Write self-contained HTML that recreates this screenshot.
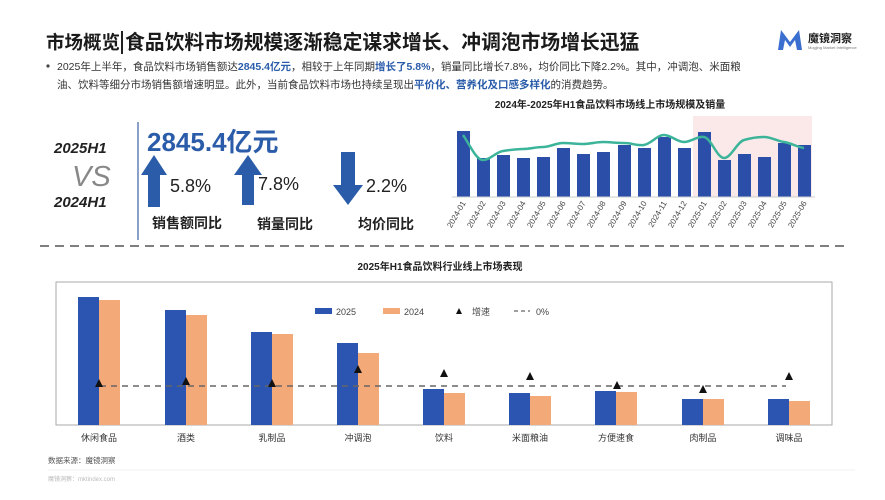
<!DOCTYPE html>
<html><head><meta charset="utf-8"><style>
body{margin:0;background:#fff;}
svg{display:block;font-family:"Liberation Sans","Noto Sans CJK SC",sans-serif;}
</style></head><body>
<svg width="885" height="500" viewBox="0 0 885 500" xmlns="http://www.w3.org/2000/svg">
<rect width="885" height="500" fill="#fff"/>
<!-- Title -->
<text x="46" y="49" font-size="18.5" font-weight="bold" fill="#1a1a1a">市场概览</text>
<rect x="121" y="31" width="2" height="23" fill="#222"/>
<text x="125" y="49" font-size="19.8" font-weight="bold" fill="#1a1a1a">食品饮料市场规模逐渐稳定谋求增长、冲调泡市场增长迅猛</text>
<!-- logo -->
<path d="M778 50 L781 30 L790 42 L799 30 L802 50 L797 50 L795 40 L790 47 L785 40 L783 50 Z" fill="#3a6fd0"/>
<text x="808" y="42" font-size="11" font-weight="bold" fill="#222">魔镜洞察</text>
<text x="808" y="49" font-size="4" fill="#777">Mogjing Market Intelligence</text>
<!-- paragraph -->
<circle cx="48" cy="66" r="1.6" fill="#444"/>
<text x="57" y="70" font-size="10.5" fill="#333">2025年上半年，食品饮料市场销售额达<tspan fill="#2a5caa" font-weight="bold">2845.4亿元</tspan>，相较于上年同期<tspan fill="#2a5caa" font-weight="bold">增长了5.8%</tspan>，销量同比增长7.8%，均价同比下降2.2%。其中，冲调泡、米面粮</text>
<text x="57" y="88" font-size="10.5" fill="#333">油、饮料等细分市场销售额增速明显。此外，当前食品饮料市场也持续呈现出<tspan fill="#2a5caa" font-weight="bold">平价化、营养化及口感多样化</tspan>的消费趋势。</text>
<!-- left KPI -->
<text x="54" y="153" font-size="15" font-weight="bold" font-style="italic" fill="#222">2025H1</text>
<text x="72" y="186" font-size="29" font-style="italic" fill="#888">VS</text>
<text x="54" y="207" font-size="15" font-weight="bold" font-style="italic" fill="#222">2024H1</text>
<rect x="137" y="122" width="2" height="118" fill="#8aa0c8"/>
<text x="147" y="151" font-size="26" font-weight="bold" fill="#2a5caa">2845.4亿元</text>
<path d="M148 207 V175 H141 L154 155 L167 175 H160 V207 Z" fill="#2a5caa"/>
<text x="170" y="192" font-size="18" fill="#222">5.8%</text>
<path d="M242 205 V175 H234 L248 155 L262 175 H254 V205 Z" fill="#2a5caa"/>
<text x="258" y="190" font-size="18" fill="#222">7.8%</text>
<path d="M341 152 V185 H333 L348 205 L363 185 H355 V152 Z" fill="#2a5caa"/>
<text x="366" y="192" font-size="18" fill="#222">2.2%</text>
<text x="152" y="228" font-size="14" font-weight="bold" fill="#222">销售额同比</text>
<text x="257" y="229" font-size="14" font-weight="bold" fill="#222">销量同比</text>
<text x="358" y="229" font-size="14" font-weight="bold" fill="#222">均价同比</text>
<!-- top right chart -->
<text x="610" y="108" font-size="10" font-weight="bold" fill="#222" text-anchor="middle">2024年-2025年H1食品饮料市场线上市场规模及销量</text>
<rect x="693" y="116" width="119" height="81" fill="#fbe9e9"/>
<g fill="#2b4fa8">
<rect x="457" y="131" width="13" height="66"/>
<rect x="477" y="158" width="13" height="39"/>
<rect x="497" y="155" width="13" height="42"/>
<rect x="517" y="158" width="13" height="39"/>
<rect x="537" y="157" width="13" height="40"/>
<rect x="557" y="148" width="13" height="49"/>
<rect x="577" y="154" width="13" height="43"/>
<rect x="597" y="152" width="13" height="45"/>
<rect x="618" y="145" width="13" height="52"/>
<rect x="638" y="148" width="13" height="49"/>
<rect x="658" y="137" width="13" height="60"/>
<rect x="678" y="148" width="13" height="49"/>
<rect x="698" y="132" width="13" height="65"/>
<rect x="718" y="160" width="13" height="37"/>
<rect x="738" y="154" width="13" height="43"/>
<rect x="758" y="157" width="13" height="40"/>
<rect x="778" y="143" width="13" height="54"/>
<rect x="798" y="145" width="13" height="52"/>
</g>
<line x1="452" y1="197" x2="815" y2="197" stroke="#ccc"/>
<path d="M463 135 C470 145,476 160,483 160 S496 152,503 151 S516 149,523 149 S536 147,543 147 S556 143,563 143 S576 144,583 144 S596 142,603 142 S616 143,624 143 S637 146,644 145 S657 135,664 135 S677 142,684 142 S697 136,704 137 S717 158,724 158 S737 142,744 140 S757 137,764 137 S777 141,784 142 S797 147,804 148" fill="none" stroke="#3cb49a" stroke-width="2.5"/>
<g font-size="8" fill="#444">
<text transform="translate(466,203) rotate(-60)" text-anchor="end">2024-01</text>
<text transform="translate(486,203) rotate(-60)" text-anchor="end">2024-02</text>
<text transform="translate(506,203) rotate(-60)" text-anchor="end">2024-03</text>
<text transform="translate(526,203) rotate(-60)" text-anchor="end">2024-04</text>
<text transform="translate(546,203) rotate(-60)" text-anchor="end">2024-05</text>
<text transform="translate(566,203) rotate(-60)" text-anchor="end">2024-06</text>
<text transform="translate(586,203) rotate(-60)" text-anchor="end">2024-07</text>
<text transform="translate(606,203) rotate(-60)" text-anchor="end">2024-08</text>
<text transform="translate(627,203) rotate(-60)" text-anchor="end">2024-09</text>
<text transform="translate(647,203) rotate(-60)" text-anchor="end">2024-10</text>
<text transform="translate(667,203) rotate(-60)" text-anchor="end">2024-11</text>
<text transform="translate(687,203) rotate(-60)" text-anchor="end">2024-12</text>
<text transform="translate(707,203) rotate(-60)" text-anchor="end">2025-01</text>
<text transform="translate(727,203) rotate(-60)" text-anchor="end">2025-02</text>
<text transform="translate(747,203) rotate(-60)" text-anchor="end">2025-03</text>
<text transform="translate(767,203) rotate(-60)" text-anchor="end">2025-04</text>
<text transform="translate(787,203) rotate(-60)" text-anchor="end">2025-05</text>
<text transform="translate(807,203) rotate(-60)" text-anchor="end">2025-06</text>
</g>
<!-- separator -->
<line x1="40" y1="246" x2="845" y2="246" stroke="#555" stroke-width="1.5" stroke-dasharray="9,6"/>
<!-- bottom chart -->
<text x="440" y="270" font-size="10" font-weight="bold" fill="#222" text-anchor="middle">2025年H1食品饮料行业线上市场表现</text>
<rect x="56" y="282" width="776" height="143" fill="none" stroke="#aaa"/>
<g fill="#2b55b0">
<rect x="78" y="297" width="21" height="128"/>
<rect x="165" y="310" width="21" height="115"/>
<rect x="251" y="332" width="21" height="93"/>
<rect x="337" y="343" width="21" height="82"/>
<rect x="423" y="389" width="21" height="36"/>
<rect x="509" y="393" width="21" height="32"/>
<rect x="595" y="391" width="21" height="34"/>
<rect x="682" y="399" width="21" height="26"/>
<rect x="768" y="399" width="21" height="26"/>
</g>
<g fill="#f4aa78">
<rect x="99" y="300" width="21" height="125"/>
<rect x="186" y="315" width="21" height="110"/>
<rect x="272" y="334" width="21" height="91"/>
<rect x="358" y="353" width="21" height="72"/>
<rect x="444" y="393" width="21" height="32"/>
<rect x="530" y="396" width="21" height="29"/>
<rect x="616" y="392" width="21" height="33"/>
<rect x="703" y="399" width="21" height="26"/>
<rect x="789" y="401" width="21" height="24"/>
</g>
<line x1="100" y1="386" x2="786" y2="386" stroke="#666" stroke-width="1.5" stroke-dasharray="6,5"/>
<g fill="#111">
<path d="M99 379 l-4 8 h8 z"/>
<path d="M186 377 l-4 8 h8 z"/>
<path d="M272 379 l-4 8 h8 z"/>
<path d="M358 365 l-4 8 h8 z"/>
<path d="M444 369 l-4 8 h8 z"/>
<path d="M530 372 l-4 8 h8 z"/>
<path d="M617 381 l-4 8 h8 z"/>
<path d="M703 385 l-4 8 h8 z"/>
<path d="M789 372 l-4 8 h8 z"/>
</g>
<!-- legend -->
<rect x="315" y="308" width="17" height="6" fill="#2b55b0"/>
<text x="336" y="315" font-size="9" fill="#444">2025</text>
<rect x="383" y="308" width="17" height="6" fill="#f4aa78"/>
<text x="404" y="315" font-size="9" fill="#444">2024</text>
<path d="M459 308 l-3 6 h6 z" fill="#111"/>
<text x="472" y="315" font-size="9" fill="#444">增速</text>
<line x1="514" y1="311" x2="530" y2="311" stroke="#666" stroke-width="1.2" stroke-dasharray="4,3"/>
<text x="536" y="315" font-size="9" fill="#444">0%</text>
<!-- categories -->
<g font-size="9" fill="#333" text-anchor="middle">
<text x="99" y="441">休闲食品</text>
<text x="186" y="441">酒类</text>
<text x="272" y="441">乳制品</text>
<text x="358" y="441">冲调泡</text>
<text x="444" y="441">饮料</text>
<text x="530" y="441">米面粮油</text>
<text x="616" y="441">方便速食</text>
<text x="703" y="441">肉制品</text>
<text x="789" y="441">调味品</text>
</g>
<text x="48" y="463" font-size="7.5" fill="#555">数据来源：魔镜洞察</text>
<line x1="48" y1="470" x2="855" y2="470" stroke="#f0f0f0"/>
<text x="48" y="481" font-size="6" fill="#bbb">魔镜洞察：mktindex.com</text>
</svg>
</body></html>
